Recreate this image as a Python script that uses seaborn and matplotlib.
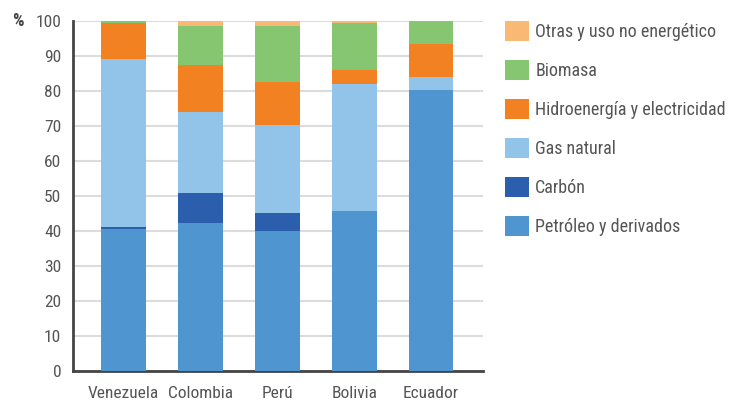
import matplotlib.pyplot as plt
import pandas as pd
import seaborn as sns

# Data (% of total)
countries = ['Venezuela', 'Colombia', 'Perú', 'Bolivia', 'Ecuador']
petroleo = [40.5, 42.2, 40.0, 45.6, 80.3]
carbon = [0.7, 8.8, 5.2, 0.0, 0.0]
gas_natural = [48.0, 22.9, 25.1, 36.4, 3.8]
hidro = [10.3, 13.5, 12.4, 4.0, 9.4]
biomasa = [0.5, 11.2, 15.9, 13.4, 6.5]
otras = [0.0, 1.4, 1.4, 0.6, 0.0]

series = ['Petróleo y derivados', 'Carbón', 'Gas natural',
          'Hidroenergía y electricidad', 'Biomasa', 'Otras y uso no energético']
colors = ['#4f95d0', '#2b5fae', '#92c4e9', '#f28122', '#86c670', '#f9b874']

df = pd.DataFrame(dict(zip(series, [petroleo, carbon, gas_natural, hidro,
                                    biomasa, otras])), index=countries)
cum = df.cumsum(axis=1)

sns.set_style('white')
plt.rcParams['font.family'] = ['Roboto Condensed', 'DejaVu Sans']

fig = plt.figure(figsize=(7.34, 4), dpi=100)
ax = fig.add_axes([0.0995, 0.0725, 0.559, 0.875])

# Stacked bars: draw cumulative totals from the top layer down
for name, color in reversed(list(zip(series, colors))):
    sns.barplot(x=countries, y=cum[name].values, color=color, width=0.58,
                saturation=1, linewidth=0, ax=ax, label=name, zorder=3)

ax.set_ylim(0, 100)
ax.set_xlim(-0.66, 4.68)
ax.set_yticks(range(0, 101, 10))
ax.grid(axis='y', color='#dcdcdc', linewidth=1.5, zorder=0)
ax.set_axisbelow(True)
for s in ['top', 'right']:
    ax.spines[s].set_visible(False)
for s in ['left', 'bottom']:
    ax.spines[s].set_color('#444444')
    ax.spines[s].set_linewidth(2)
ax.tick_params(axis='both', colors='#444444', labelcolor='#555555',
               labelsize=12.5, length=5, width=1.5, direction='out')
ax.tick_params(axis='x', pad=6)
ax.set_xlabel('')
ax.set_ylabel('')

fig.text(0.016, 0.948, '%', fontsize=13, fontweight='bold', color='#444444',
         va='center')

handles, labels = ax.get_legend_handles_labels()
leg = ax.legend(handles, labels, loc='upper left', bbox_to_anchor=(1.035, 1.02),
                frameon=False, fontsize=13, handlelength=1.35,
                handleheight=1.35, handletextpad=0.33, labelspacing=1.03,
                borderaxespad=0)
for t in leg.get_texts():
    t.set_color('#555555')

fig.savefig('out.png', dpi=100)
